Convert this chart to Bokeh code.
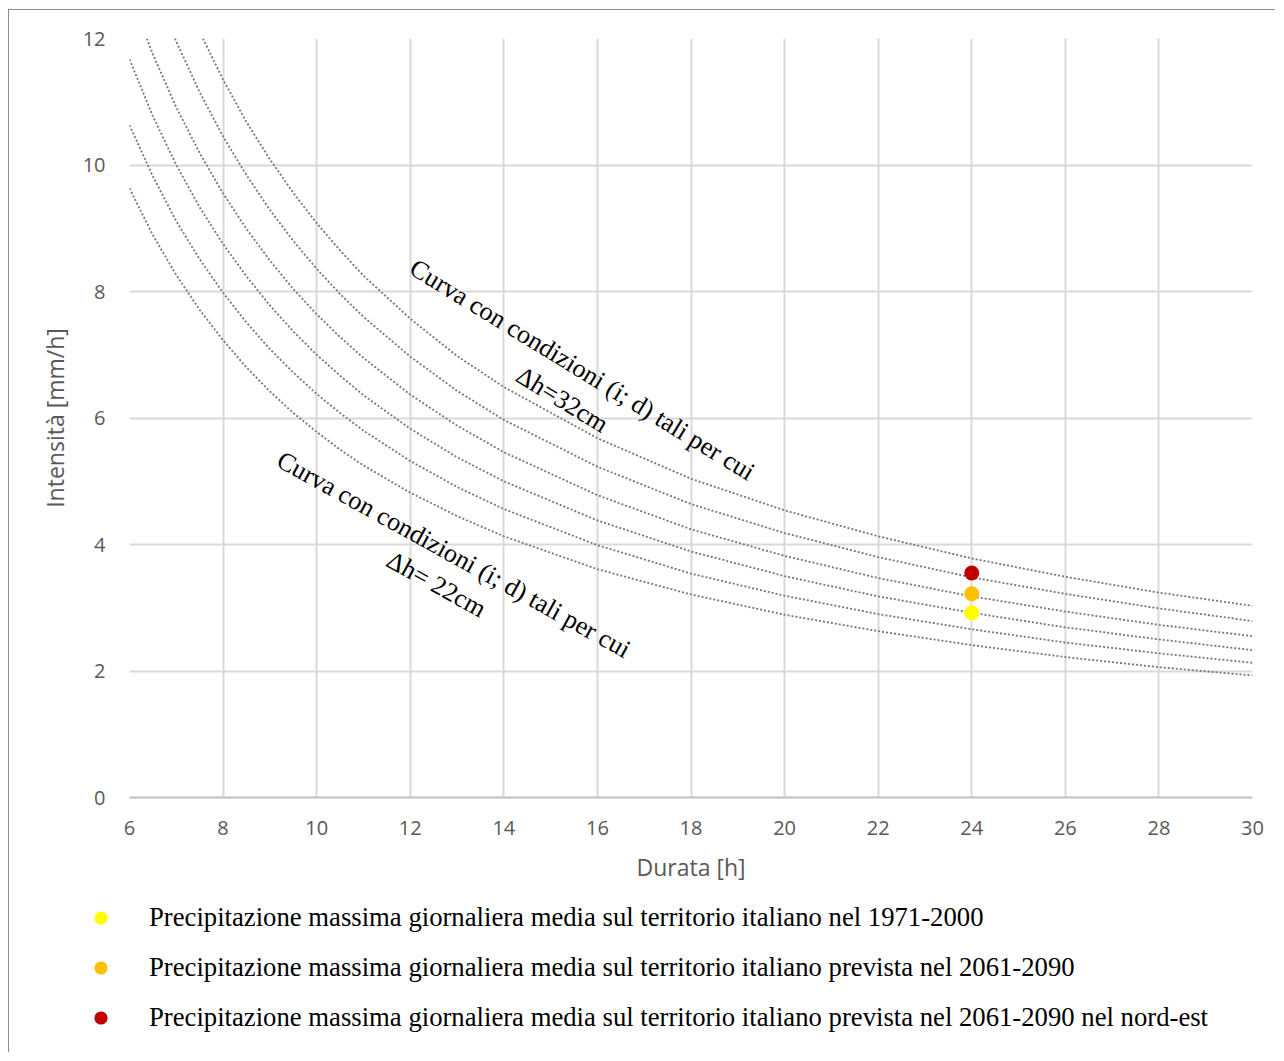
from bokeh.plotting import figure
from bokeh.models import Label, Legend, LegendItem, FixedTicker, Range1d
from bokeh.layouts import column, row
from bokeh.embed import file_html
from bokeh.resources import INLINE

# --- data ---------------------------------------------------------------
# six dotted curves (duration [h] -> intensity [mm/h])
dur_c1 = [6, 6.5, 7, 7.5, 8, 8.5, 9, 9.5, 10, 10.5, 11, 12, 13, 14, 16, 18, 20, 22, 24, 26, 28, 30]
int_c1 = [9.63, 8.89, 8.26, 7.71, 7.23, 6.80, 6.42, 6.08, 5.78, 5.50, 5.25, 4.82, 4.45, 4.13, 3.61, 3.21, 2.89, 2.63, 2.41, 2.22, 2.06, 1.93]
dur_c2 = [6, 6.5, 7, 7.5, 8, 8.5, 9, 9.5, 10, 10.5, 11, 12, 13, 14, 16, 18, 20, 22, 24, 26, 28, 30]
int_c2 = [10.63, 9.82, 9.11, 8.51, 7.98, 7.51, 7.09, 6.72, 6.38, 6.08, 5.80, 5.32, 4.91, 4.56, 3.99, 3.54, 3.19, 2.90, 2.66, 2.45, 2.28, 2.13]
dur_c3 = [6, 6.5, 7, 7.5, 8, 8.5, 9, 9.5, 10, 10.5, 11, 12, 13, 14, 16, 18, 20, 22, 24, 26, 28, 30]
int_c3 = [11.67, 10.77, 10.0, 9.33, 8.75, 8.24, 7.78, 7.37, 7.0, 6.67, 6.36, 5.83, 5.38, 5.0, 4.38, 3.89, 3.5, 3.18, 2.92, 2.69, 2.5, 2.33]
dur_c4 = [6.37, 6.5, 7, 7.5, 8, 8.5, 9, 9.5, 10, 10.5, 11, 12, 13, 14, 16, 18, 20, 22, 24, 26, 28, 30]
int_c4 = [12.0, 11.75, 10.91, 10.19, 9.55, 8.99, 8.49, 8.04, 7.64, 7.28, 6.95, 6.37, 5.88, 5.46, 4.78, 4.24, 3.82, 3.47, 3.18, 2.94, 2.73, 2.55]
dur_c5 = [6.97, 7.5, 8, 8.5, 9, 9.5, 10, 10.5, 11, 12, 13, 14, 16, 18, 20, 22, 24, 26, 28, 30]
int_c5 = [12.0, 11.15, 10.45, 9.84, 9.29, 8.80, 8.36, 7.96, 7.6, 6.97, 6.43, 5.97, 5.23, 4.64, 4.18, 3.8, 3.48, 3.22, 2.99, 2.79]
dur_c6 = [7.57, 8, 8.5, 9, 9.5, 10, 10.5, 11, 12, 13, 14, 16, 18, 20, 22, 24, 26, 28, 30]
int_c6 = [12.0, 11.35, 10.68, 10.09, 9.56, 9.08, 8.65, 8.25, 7.57, 6.98, 6.49, 5.68, 5.04, 4.54, 4.13, 3.78, 3.49, 3.24, 3.03]

# three points at 24 h
point_dur = [24, 24, 24]
point_int = [2.92, 3.22, 3.55]
point_colors = ["#ffff00", "#ffc000", "#c00000"]
point_labels = [
    "Precipitazione massima giornaliera media sul territorio italiano nel 1971-2000",
    "Precipitazione massima giornaliera media sul territorio italiano prevista nel 2061-2090",
    "Precipitazione massima giornaliera media sul territorio italiano prevista nel 2061-2090 nel nord-est",
]

x_ticks = [6, 8, 10, 12, 14, 16, 18, 20, 22, 24, 26, 28, 30]
y_ticks = [0, 2, 4, 6, 8, 10, 12]

ann_upper = ["Curva con condizioni (i; d) tali per cui", "\u0394h=32cm"]
ann_lower = ["Curva con condizioni (i; d) tali per cui", "\u0394h= 22cm"]

serif = "Liberation Serif"
sans = "Open Sans"

# --- main chart -------------------------------------------------------------
W = 1266
p = figure(width=W, height=879, output_backend="svg", toolbar_location=None,
           x_range=Range1d(6, 30), y_range=Range1d(0, 12),
           min_border_left=120, min_border_right=23,
           min_border_top=28, min_border_bottom=92,
           x_axis_label="Durata [h]", y_axis_label="Intensità [mm/h]")
p.outline_line_color = None
p.background_fill_color = "white"
p.border_fill_color = "white"

for ax in (p.xaxis[0], p.yaxis[0]):
    ax.major_tick_line_color = None
    ax.minor_tick_line_color = None
    ax.major_label_text_font = sans
    ax.major_label_text_font_size = "20px"
    ax.major_label_text_color = "#595959"
    ax.axis_label_text_font = sans
    ax.axis_label_text_font_size = "23px"
    ax.axis_label_text_font_style = "normal"
    ax.axis_label_text_color = "#595959"

p.xaxis.ticker = FixedTicker(ticks=x_ticks)
p.yaxis.ticker = FixedTicker(ticks=y_ticks)
p.xaxis.axis_line_color = "#bfbfbf"
p.xaxis.axis_line_width = 2
p.yaxis.axis_line_color = None
p.xaxis.major_label_standoff = 17
p.xaxis.axis_label_standoff = 13
p.yaxis.major_label_standoff = 18
p.yaxis.axis_label_standoff = 9

p.xgrid.ticker = FixedTicker(ticks=x_ticks)
p.ygrid.ticker = FixedTicker(ticks=y_ticks)
for g in (p.xgrid[0], p.ygrid[0]):
    g.grid_line_color = "#d9d9d9"
    g.grid_line_width = 2

curves = [(dur_c1, int_c1), (dur_c2, int_c2), (dur_c3, int_c3),
          (dur_c4, int_c4), (dur_c5, int_c5), (dur_c6, int_c6)]
for xs, ys in curves:
    p.line(xs, ys, line_color="#767676", line_width=1.8, line_dash="2 2")

for xd, yi, c in zip(point_dur, point_int, point_colors):
    p.scatter([xd], [yi], size=15, fill_color=c, line_color=None)

ang1 = -0.55
ang2 = -0.505
for (tx, ty, txt, ang) in [(15.68, 6.76, ann_upper[0], ang1),
                           (15.25, 6.29, ann_upper[1], ang1),
                           (12.93, 3.84, ann_lower[0], ang2),
                           (12.56, 3.37, ann_lower[1], ang2)]:
    p.add_layout(Label(x=tx, y=ty, text=txt, angle=ang, angle_units="rad",
                       text_align="center", text_baseline="middle",
                       text_font=serif, text_font_size="26px", text_color="black"))

# --- legend strip under the chart ----------------------------------------------
p2 = figure(width=W, height=163, output_backend="svg", toolbar_location=None,
            x_range=Range1d(0, 1), y_range=Range1d(0, 1),
            min_border=0, x_axis_location=None, y_axis_location=None)
p2.outline_line_color = None
p2.grid.visible = False
p2.background_fill_color = "white"
p2.border_fill_color = "white"

items = []
for xd, yi, c, lab in zip(point_dur, point_int, point_colors, point_labels):
    # same points as above; they lie outside this strip's ranges, so only the legend shows them
    r = p2.scatter([xd], [yi], size=13, fill_color=c, line_color=None)
    items.append(LegendItem(label=lab, renderers=[r]))

legend = Legend(items=items, location=(75, 18), orientation="vertical",
                background_fill_alpha=0, border_line_color=None,
                label_text_font=serif, label_text_font_size="26.7px", label_text_color="black",
                glyph_width=33, glyph_height=33, label_standoff=32, spacing=17,
                label_height=33, padding=0, margin=0)
p2.add_layout(legend, "center")

inner = column(p, row(p2, spacing=0), spacing=0,
               styles={"border-top": "1px solid #8c8c8c", "border-left": "1px solid #8c8c8c"})
outer = column(inner, spacing=0, styles={"padding-left": "8px", "padding-top": "9px"})

open("out.html", "w").write(file_html(outer, INLINE))
